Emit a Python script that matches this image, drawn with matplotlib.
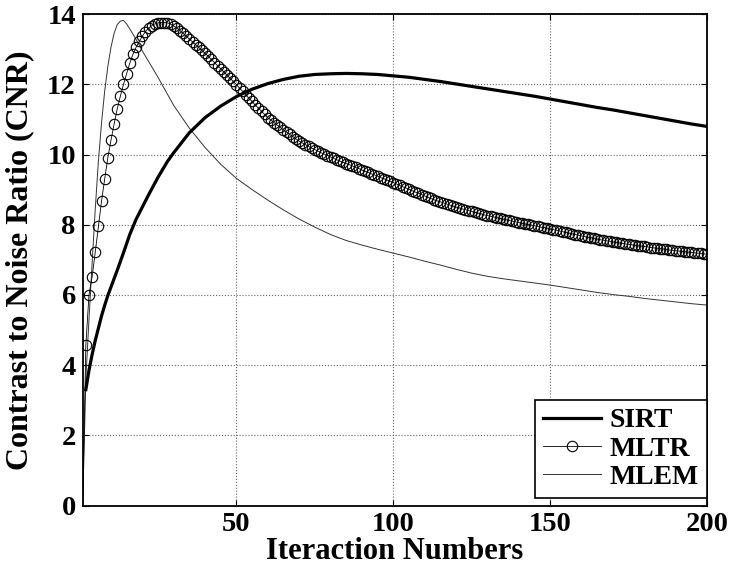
import matplotlib
matplotlib.use("Agg")
import matplotlib.pyplot as plt
import numpy as np

# ---------------- data ----------------
iterations_mltr = list(range(1, 201))
mltr = [
    0.0, 4.57, 6.00, 6.52, 7.22, 7.95, 8.67, 9.30, 9.90, 10.40,          # 1-10
    10.86, 11.30, 11.66, 12.00, 12.30, 12.60, 12.85, 13.05, 13.22, 13.37,  # 11-20
    13.50, 13.60, 13.67, 13.72, 13.75, 13.76, 13.76, 13.75, 13.72, 13.66,  # 21-30
    13.60, 13.53, 13.45, 13.37, 13.29, 13.21, 13.13, 13.05, 12.97, 12.88,  # 31-40
    12.80, 12.71, 12.62, 12.53, 12.44, 12.35, 12.26, 12.17, 12.08, 11.99,  # 41-50
    11.89, 11.80, 11.70, 11.60, 11.51, 11.41, 11.32, 11.23, 11.14, 11.05,  # 51-60
    10.98, 10.91, 10.84, 10.77, 10.70, 10.64, 10.57, 10.51, 10.44, 10.38,  # 61-70
    10.33, 10.28, 10.23, 10.18, 10.14, 10.10, 10.05, 10.01, 9.97, 9.93,    # 71-80
    9.89, 9.85, 9.81, 9.78, 9.74, 9.71, 9.67, 9.63, 9.60, 9.56,            # 81-90
    9.52, 9.49, 9.45, 9.42, 9.38, 9.34, 9.31, 9.27, 9.24, 9.20,            # 91-100
    9.16, 9.12, 9.08, 9.05, 9.01, 8.97, 8.93, 8.90, 8.86, 8.82,            # 101-110
    8.78, 8.75, 8.71, 8.68, 8.65, 8.62, 8.59, 8.56, 8.53, 8.50,            # 111-120
    8.48, 8.45, 8.43, 8.40, 8.38, 8.35, 8.33, 8.31, 8.28, 8.26,            # 121-130
    8.24, 8.22, 8.20, 8.18, 8.16, 8.14, 8.12, 8.10, 8.08, 8.06,            # 131-140
    8.04, 8.02, 8.01, 7.99, 7.97, 7.95, 7.93, 7.92, 7.90, 7.88,            # 141-150
    7.86, 7.84, 7.82, 7.80, 7.78, 7.76, 7.74, 7.72, 7.70, 7.68,            # 151-160
    7.66, 7.64, 7.63, 7.61, 7.59, 7.57, 7.56, 7.54, 7.53, 7.51,            # 161-170
    7.50, 7.48, 7.47, 7.45, 7.44, 7.43, 7.41, 7.40, 7.39, 7.38,            # 171-180
    7.37, 7.35, 7.34, 7.33, 7.32, 7.31, 7.30, 7.28, 7.27, 7.26,            # 181-190
    7.25, 7.24, 7.23, 7.22, 7.21, 7.20, 7.19, 7.18, 7.17, 7.16,            # 191-200
]

iterations_sirt = [2, 3, 4, 5, 6, 7, 8, 9, 10, 12, 14, 16, 18, 20, 22, 25, 28, 30,
                   35, 40, 45, 50, 55, 60, 65, 70, 75, 80, 85, 90, 95, 100, 105,
                   110, 115, 120, 125, 130, 135, 140, 145, 150, 155, 160, 165, 170,
                   175, 180, 185, 190, 195, 200]
sirt = [3.30, 3.85, 4.30, 4.70, 5.05, 5.40, 5.70, 5.98, 6.22, 6.70, 7.20, 7.72,
        8.15, 8.50, 8.85, 9.35, 9.80, 10.05, 10.62, 11.05, 11.38, 11.65, 11.86,
        12.02, 12.14, 12.23, 12.28, 12.30, 12.31, 12.30, 12.28, 12.24, 12.20,
        12.14, 12.08, 12.01, 11.94, 11.87, 11.80, 11.73, 11.66, 11.58, 11.50,
        11.42, 11.34, 11.27, 11.19, 11.11, 11.03, 10.95, 10.87, 10.80]

iterations_mlem = [1, 2, 3, 4, 5, 6, 7, 8, 9, 10, 11, 12, 13, 14, 15, 16, 17, 18,
                   19, 20, 25, 30, 35, 40, 45, 50, 55, 60, 65, 70, 75, 80, 85, 90,
                   95, 100, 105, 110, 115, 120, 125, 130, 135, 140, 145, 150, 155,
                   160, 165, 170, 175, 180, 185, 190, 195, 200]
mlem = [0.0, 3.60, 5.30, 6.90, 8.45, 9.80, 10.90, 11.80, 12.50, 13.05, 13.45,
        13.70, 13.80, 13.82, 13.72, 13.58, 13.43, 13.28, 13.12, 12.95, 12.20,
        11.40, 10.75, 10.20, 9.72, 9.32, 9.00, 8.70, 8.42, 8.16, 7.93, 7.72,
        7.55, 7.42, 7.30, 7.19, 7.08, 6.96, 6.85, 6.73, 6.62, 6.53, 6.46, 6.40,
        6.34, 6.28, 6.21, 6.14, 6.07, 6.01, 5.96, 5.90, 5.85, 5.80, 5.75, 5.71]

x_ticks = [50, 100, 150, 200]
y_ticks = [0, 2, 4, 6, 8, 10, 12, 14]

# ---------------- style ----------------
plt.rcParams['font.family'] = ['Liberation Serif', 'DejaVu Serif']
plt.rcParams['font.weight'] = 'bold'

fig = plt.figure(figsize=(7.31, 5.72), dpi=100)
ax = fig.add_axes([82.7 / 731, 1 - 505.5 / 572, (707 - 82.7) / 731, (505.5 - 14.1) / 572])

ax.plot(iterations_sirt, sirt, color='black', lw=2.3, label='SIRT', zorder=3)
ax.plot(iterations_mltr, mltr, color='black', lw=0.6, marker='o', markersize=7.5,
        markerfacecolor='none', markeredgecolor='black', markeredgewidth=0.8,
        markevery=list(range(1, len(iterations_mltr))),
        label='MLTR', zorder=4)
ax.plot(iterations_mlem, mlem, color='#333333', lw=0.7, label='MLEM', zorder=2)

ax.set_xlim(1, 200)
ax.set_ylim(0, 14)
ax.set_xticks(x_ticks)
ax.set_yticks(y_ticks)
ax.tick_params(direction='in', length=4, width=0.8, top=True, right=True,
               labelsize=20.5, pad=5)
for lbl in ax.get_xticklabels() + ax.get_yticklabels():
    lbl.set_fontweight('bold')

ax.grid(True, linestyle=':', color='#666666', linewidth=0.8)
for s in ax.spines.values():
    s.set_linewidth(1.3)

ax.set_xlabel('Iteraction Numbers', fontsize=22, fontweight='bold', labelpad=0)
ax.set_ylabel('Contrast to Noise Ratio (CNR)', fontsize=23, fontweight='bold', labelpad=9)

leg = ax.legend(loc='lower right', bbox_to_anchor=(1.0, 0.015), borderaxespad=0,
                prop={'family': 'Liberation Serif', 'weight': 'bold', 'size': 20},
                frameon=True, fancybox=False, edgecolor='black', framealpha=1,
                handlelength=2.1, handletextpad=0.3, borderpad=0.3, labelspacing=0.1)
leg.get_frame().set_linewidth(1.2)

fig.savefig('out.png', dpi=100)
